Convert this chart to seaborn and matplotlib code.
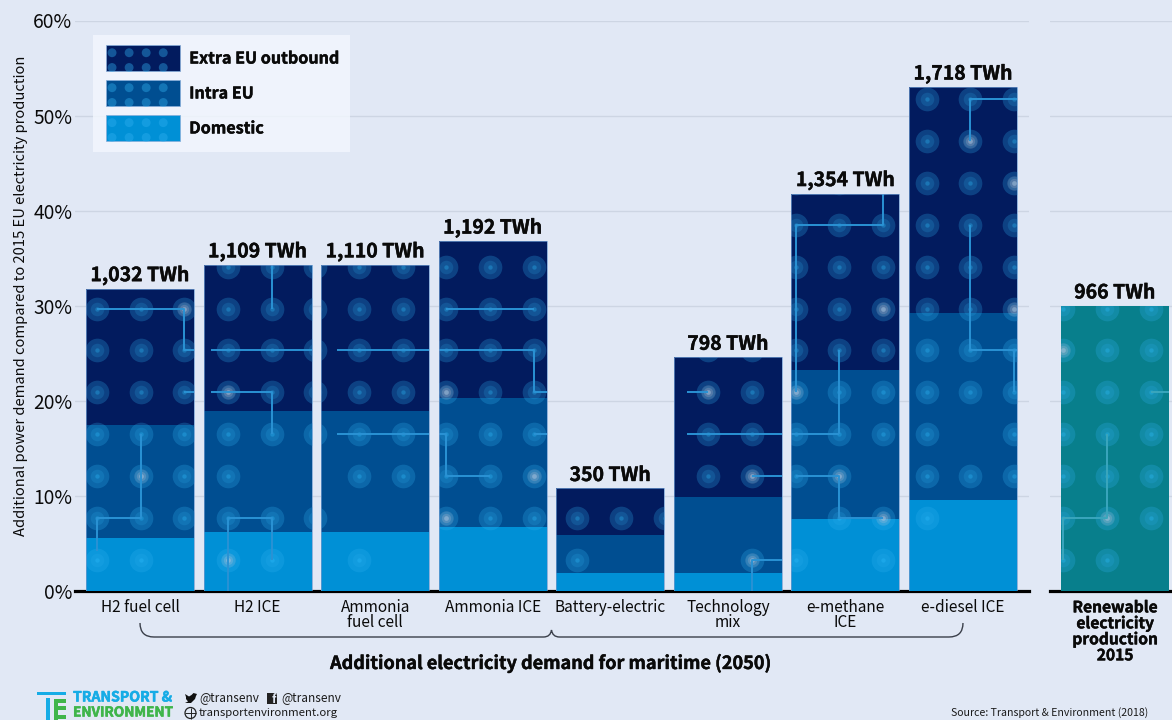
import numpy as np
import matplotlib
matplotlib.use("Agg")
import matplotlib.pyplot as plt
import matplotlib.patheffects as pe
import seaborn as sns
from matplotlib.collections import LineCollection
from matplotlib.legend_handler import HandlerBase
from matplotlib.patches import Circle, PathPatch, Patch, Rectangle
from matplotlib.path import Path
from matplotlib.transforms import Affine2D

technologies = ["H2 fuel cell", "H2 ICE", "Ammonia\nfuel cell", "Ammonia ICE", "Battery-electric",
                "Technology\nmix", "e-methane\nICE", "e-diesel ICE"]
domestic = [5.6, 6.2, 6.2, 6.7, 1.9, 1.9, 7.6, 9.6]
intra_eu = [11.9, 12.7, 12.7, 13.6, 4.0, 8.0, 15.6, 19.6]
extra_eu = [14.3, 15.4, 15.4, 16.5, 4.9, 14.7, 18.6, 23.8]
total_labels = ["1,032 TWh", "1,109 TWh", "1,110 TWh", "1,192 TWh", "350 TWh", "798 TWh", "1,354 TWh", "1,718 TWh"]
renewable_name = ["Renewable\nelectricity\nproduction\n2015"]
renewable_value = [30.0]
renewable_label = "966 TWh"
y_ticks = [0, 10, 20, 30, 40, 50, 60]

BG = "#e1e8f5"
C_DOM, C_INT, C_EXT, C_REN = "#0090d6", "#004e91", "#021b5e", "#087f8c"
TRACE = "#2a92d4"
HOT = "#d8c8d4"
BOLD = [pe.withStroke(linewidth=0.3, foreground="#0a0a0a")]

sns.set_theme(style="white")
plt.rcParams["font.family"] = ["Noto Sans CJK JP", "DejaVu Sans"]
plt.rcParams["text.color"] = "#0a0a0a"
plt.rcParams["xtick.color"] = "#0a0a0a"
plt.rcParams["ytick.color"] = "#0a0a0a"
plt.rcParams["axes.labelcolor"] = "#0a0a0a"

W, H = 1172, 720
fig = plt.figure(figsize=(W / 100, H / 100), dpi=100, facecolor=BG)
px = Affine2D().scale(1 / W, -1 / H).translate(0, 1) + fig.transFigure

ax = fig.add_axes([75 / W, (H - 591) / H, 954 / W, 570.5 / H], facecolor="none")
ax2 = fig.add_axes([1050 / W, (H - 591) / H, 122 / W, 570.5 / H], facecolor="none")

dom, inn, ext = map(np.array, (domestic, intra_eu, extra_eu))
totals = dom + inn + ext
stack = [(dom, 0 * dom, C_DOM), (inn, dom, C_INT), (ext, dom + inn, C_EXT)]
BAR_W = 0.918
for vals, base, col in stack:
    sns.barplot(x=technologies, y=vals, bottom=base, color=col, saturation=1, width=BAR_W,
                order=technologies, ax=ax, zorder=3, linewidth=0)
sns.barplot(x=technologies, y=totals, fill=False, color="#6f9bd0", saturation=1, width=BAR_W,
            order=technologies, ax=ax, zorder=6, linewidth=0.5)
sns.barplot(x=renewable_name, y=renewable_value, color=C_REN, saturation=1, width=BAR_W, ax=ax2,
            zorder=3, linewidth=0)

ax.set_xlim(-0.553, 7.561)
ax2.set_xlim(-0.553, 0.485)
for a in (ax, ax2):
    a.set_ylim(0, 60)
    a.set_yticks(y_ticks)
    a.grid(axis="y", color="#cdd5e3", lw=1, zorder=0)
    a.grid(axis="x", visible=False)
    sns.despine(ax=a, left=True)
    a.spines["bottom"].set_linewidth(2.3)
    a.spines["bottom"].set_color("black")
    a.tick_params(axis="both", length=0)
    a.set_xlabel("")
ax.set_yticklabels([f"{t}%" for t in y_ticks], fontsize=13.8)
ax.tick_params(axis="y", pad=2)
ax2.tick_params(axis="y", labelleft=False)
ax.set_ylabel("Additional power demand compared to 2015 EU electricity production", fontsize=10.6)
ax.yaxis.set_label_coords((28 - 75) / 954, 0.517)
ax.set_xticks(range(len(technologies)))
ax.set_xticklabels(technologies, fontsize=11.1, linespacing=0.85)
ax.tick_params(axis="x", pad=6)
ax2.set_xticks([0])
ax2.set_xticklabels(renewable_name, fontsize=11.2, fontweight="bold", linespacing=1.0, path_effects=BOLD)
ax2.tick_params(axis="x", pad=6)

# decorative circuit texture: which rows of the dot grid are lit, column by column
STEP = 43.67 / 117.57
ROW = 4.4
ROW0 = 3.3
def gx(i):
    return -0.366 + STEP * i
def gy(j):
    return ROW0 + ROW * j

def rows(lo, hi, skip=()):
    return [j for j in range(lo, hi + 1) if j not in skip]

dot_rows = {0: rows(0, 6), 1: rows(0, 6), 2: rows(1, 6),
            3: rows(0, 7), 4: rows(0, 7, (2,)), 5: rows(1, 7, (2,)),
            6: rows(0, 7, (1,)), 7: rows(2, 7),
            8: rows(1, 7), 9: rows(1, 7), 10: rows(1, 7),
            11: rows(0, 1), 12: [1], 13: [1],
            14: rows(2, 5), 15: [0] + rows(2, 5),
            16: rows(0, 9, (1,)), 17: rows(1, 9), 18: rows(0, 9, (2,)),
            19: rows(1, 11), 20: rows(2, 11, (3,)), 21: rows(2, 11)}
bar_cols = [[0, 1, 2], [3, 4, 5], [5, 6, 7], [8, 9, 10], [11, 12, 13], [14, 15], [16, 17, 18], [19, 20, 21]]
hot_dots = {0: [(2, 6), (1, 2)], 1: [(3, 4), (3, 0)], 3: [(8, 4), (10, 2), (8, 1)], 5: [(14, 4), (15, 2), (15, 0)],
            6: [(18, 6), (16, 4), (17, 2), (18, 1)], 7: [(20, 10), (21, 9), (21, 6)]}

def dots(a, pts, hot, clip):
    pts = np.array(pts)
    for size, c, al in ((290, "#30b0f0", 0.26), (95, "#30b0f0", 0.18), (10, "#30c0ff", 0.3)):
        sc = a.scatter(pts[:, 0], pts[:, 1], s=size, color=c, alpha=al, linewidths=0, zorder=4)
        sc.set_clip_path(clip)
    if hot:
        hot = np.array(hot)
        for size, al in ((110, 0.16), (45, 0.2), (12, 0.3)):
            sc = a.scatter(hot[:, 0], hot[:, 1], s=size, color=HOT, alpha=al, linewidths=0, zorder=4)
            sc.set_clip_path(clip)

for b, cols in enumerate(bar_cols):
    clip = Rectangle((b - BAR_W / 2, 0), BAR_W, totals[b], transform=ax.transData)
    pts = [(gx(i), gy(j)) for i in cols for j in dot_rows[i]]
    hot = [(gx(i), gy(j)) for i, j in hot_dots.get(b, [])]
    dots(ax, pts, hot, clip)

ren_xs = [-0.44, -0.064, 0.31]
ren_rows = [rows(0, 6), rows(0, 6), rows(1, 6)]
clip2 = Rectangle((-BAR_W / 2, 0), BAR_W, renewable_value[0], transform=ax2.transData)
dots(ax2, [(x, gy(j)) for x, rr in zip(ren_xs, ren_rows) for j in rr],
     [(ren_xs[1], gy(1)), (ren_xs[0], gy(5))], clip2)

traces = {
    0: [[(0, 6), (2, 6), (2, 5), (2.4, 5)], [(2, 4), (2.4, 4)], [(1, 3), (1, 1), (0, 1), (0, 0.2)]],
    1: [[(4, 8), (4, 6)], [(2.6, 5), (5.5, 5)], [(2.6, 4), (4, 4), (4, 3)], [(4, 0), (4, 1), (3, 1), (3, -1)]],
    2: [[(5.5, 5), (8.5, 5)], [(5.5, 3), (7.7, 3)]],
    3: [[(8, 6), (10, 6)], [(7.5, 5), (10, 5), (10, 4), (10.6, 4)], [(7.5, 3), (8, 3), (8, 2), (9, 2)], [(10, 3), (10.6, 3)]],
    5: [[(13.5, 4), (14, 4)], [(13.5, 3), (16, 3)], [(15, 2), (15.8, 2)], [(15.8, 0), (15, 0), (15, -1)]],
    6: [[(18, 9.5), (18, 8), (16, 8), (16, 4)], [(15.5, 3), (17, 3)], [(17, 5), (17, 3)], [(16, 2), (17, 2), (17, 1), (18, 1)]],
    7: [[(22, 11), (20, 11), (20, 10)], [(20, 8), (20, 5), (22, 5)], [(21, 5), (21, 4)]],
}
for b, polys in traces.items():
    segs = [[(gx(i), gy(j)) for i, j in poly] for poly in polys]
    lc = LineCollection(segs, colors=TRACE, linewidths=1.4, zorder=5)
    ax.add_collection(lc)
    lc.set_clip_path(Rectangle((b - BAR_W / 2, 0), BAR_W, totals[b], transform=ax.transData))
ren_segs = [[(ren_xs[1], gy(3)), (ren_xs[1], gy(1)), (ren_xs[0], gy(1)), (ren_xs[0], gy(0))],
            [(ren_xs[2], gy(4)), (0.6, gy(4))]]
lc = LineCollection(ren_segs, colors="#3aa6bd", linewidths=1.4, zorder=5)
ax2.add_collection(lc)
lc.set_clip_path(Rectangle((-BAR_W / 2, 0), BAR_W, 30, transform=ax2.transData))

# totals on top
for b, lab in enumerate(total_labels):
    ax.text(b, totals[b] + 0.35, lab, ha="center", va="bottom", fontsize=14, fontweight="bold", zorder=7, path_effects=BOLD)
ax2.text(0, renewable_value[0] + 0.35, renewable_label, ha="center", va="bottom", fontsize=14, fontweight="bold", path_effects=BOLD)

# legend with textured swatches
class Swatch(HandlerBase):
    def create_artists(self, legend, orig, xd, yd, w, h, fs, trans):
        hexc = matplotlib.colors.to_hex(orig.get_facecolor())
        x0 = -xd + 1.9
        sw = w - 1.9
        rect = Rectangle((x0, -yd), sw, h, fc=hexc, ec="#86aedb", lw=0.5, transform=trans)
        out = [rect]
        for row in (0.15, 0.72):
            for cx in (0.08, 0.31, 0.54, 0.77):
                out.append(Circle((x0 + cx * sw, -yd + row * h), 3.2, fc="#30b0f0", alpha=0.4, ec="none", transform=trans))
        return out

handles = [Patch(facecolor=C_EXT, label="Extra EU outbound"), Patch(facecolor=C_INT, label="Intra EU"),
           Patch(facecolor=C_DOM, label="Domestic")]
leg = ax.legend(handles=handles, handler_map={Patch: Swatch()}, loc="upper left",
                bbox_to_anchor=(93 / W, (H - 35) / H), bbox_transform=fig.transFigure, borderaxespad=0,
                prop={"weight": "bold", "size": 11.6}, handlelength=4.77, handleheight=2.1, labelspacing=0.56,
                handletextpad=0.55, borderpad=0.65, fancybox=False, framealpha=0.8,
                facecolor="#f3f7fe", edgecolor="none")
leg.set_zorder(8)
for t in leg.get_texts():
    t.set_path_effects(BOLD)

# bracket below the bars
def bx(v):
    return 140 + v * 117.57
verts = [(bx(0), 623), (bx(0), 637), (bx(0) + 14, 637), (bx(3.5) - 8, 637), (bx(3.5) - 1, 637), (bx(3.5), 630),
         (bx(3.5) + 1, 637), (bx(3.5) + 8, 637), (bx(7) - 14, 637), (bx(7), 637), (bx(7), 623)]
codes = [Path.MOVETO, Path.CURVE3, Path.CURVE3, Path.LINETO, Path.CURVE3, Path.CURVE3,
         Path.CURVE3, Path.CURVE3, Path.LINETO, Path.CURVE3, Path.CURVE3]
fig.add_artist(PathPatch(Path(verts, codes), fc="none", ec="#3a3f4a", lw=1, transform=px))
fig.text(551, 663, "Additional electricity demand for maritime (2050)", transform=px, ha="center", va="center",
         fontsize=13, fontweight="bold", path_effects=BOLD)

# footer
CY, GR = "#16ace6", "#3fb54a"
for (x, y, w, h, c) in [(37, 691.5, 29, 3.5, CY), (46, 698, 4, 22, CY), (54, 699, 12, 3.5, GR), (54, 706, 12, 3.5, GR),
                        (54, 715, 12, 3.5, GR), (54, 699, 4, 21, GR)]:
    fig.add_artist(Rectangle((x, y), w, h, fc=c, ec="none", transform=px))
fig.text(73, 697.5, "TRANSPORT &", transform=px, fontsize=10.15, fontweight="bold", color=CY, va="center", ha="left",
         path_effects=[pe.withStroke(linewidth=0.4, foreground=CY)])
fig.text(73, 712.5, "ENVIRONMENT", transform=px, fontsize=9.8, fontweight="bold", color=GR, va="center", ha="left",
         path_effects=[pe.withStroke(linewidth=0.4, foreground=GR)])
fig.text(199, 698, "@transenv", transform=px, fontsize=8.5, va="center", ha="left", color="#1a1a1a")
fig.text(281, 698, "@transenv", transform=px, fontsize=8.5, va="center", ha="left", color="#1a1a1a")
fig.text(199, 713, "transportenvironment.org", transform=px, fontsize=8.2, va="center", ha="left", color="#1a1a1a")
fig.text(1148, 713, "Source: Transport & Environment (2018)", transform=px, fontsize=7.6, va="center", ha="right", color="#1a1a1a")
# icons
bird = [(185, 694), (189, 696.5), (191.5, 695), (193.5, 693), (197, 694), (196, 696), (195, 699), (191, 703), (185, 703),
        (188, 701.5), (186, 699), (186, 697)]
fig.add_artist(plt.Polygon(bird, closed=True, fc="#111111", ec="none", transform=px))
fig.add_artist(Rectangle((267, 693), 10, 10.5, fc="#222222", ec="none", transform=px))
fig.text(273.5, 699.5, "f", transform=px, fontsize=8.5, fontweight="bold", color=BG, va="center", ha="center")
fig.add_artist(Circle((190.5, 713), 5.5, fc="none", ec="#222222", lw=0.9, transform=px))
fig.add_artist(PathPatch(Path([(185, 713), (196, 713), (190.5, 707.5), (190.5, 718.5)],
                              [Path.MOVETO, Path.LINETO, Path.MOVETO, Path.LINETO]), ec="#222222", lw=0.7, transform=px))

fig.savefig("out.png", dpi=100, facecolor=BG)
